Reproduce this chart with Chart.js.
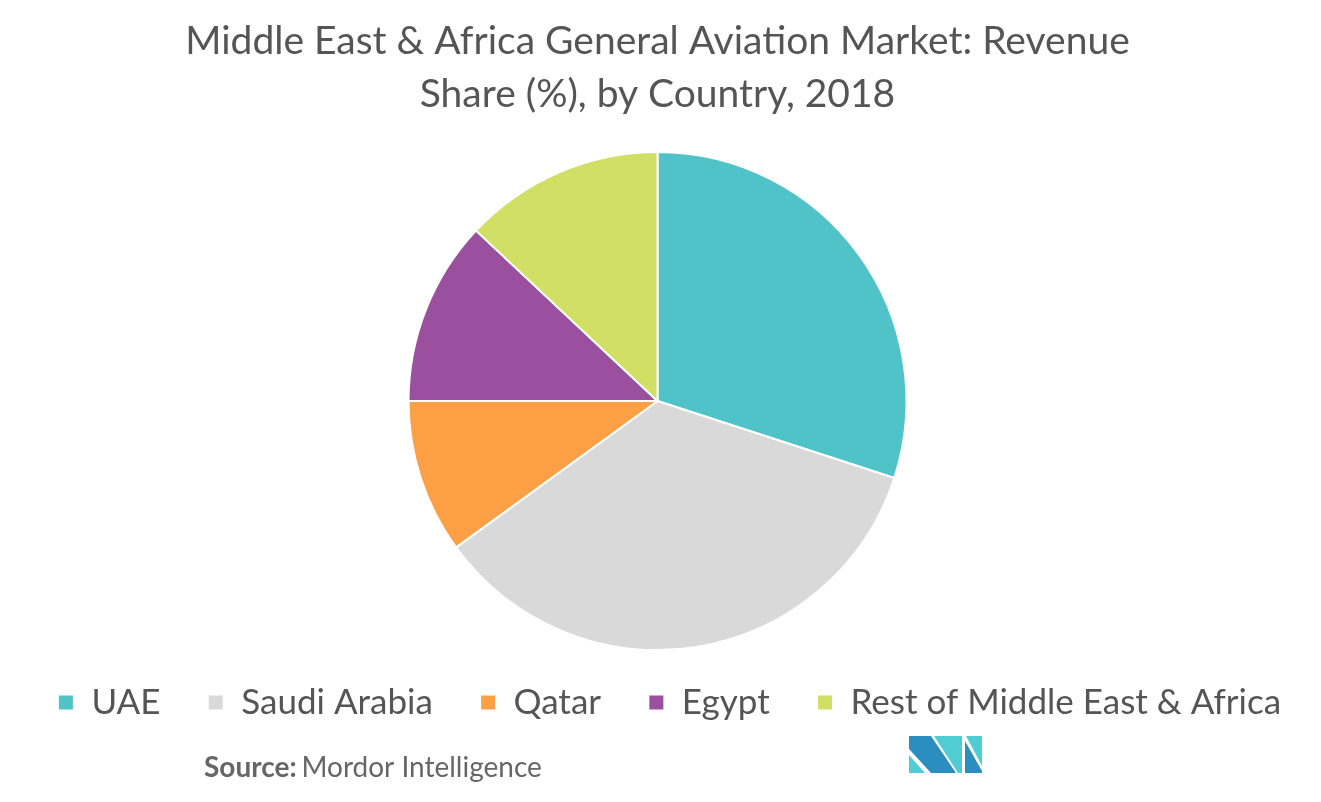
<!DOCTYPE html>
<html>
<head>
<meta charset="utf-8">
<script src="https://cdn.jsdelivr.net/npm/chart.js@4.4.0/dist/chart.umd.min.js"></script>
<style>
  html, body { margin: 0; padding: 0; background: #fff; }
  #wrap { width: 1321px; height: 802px; position: relative; }
</style>
</head>
<body>
<div id="wrap"><canvas id="pieChart"></canvas></div>
<script>
const countries = ['UAE', 'Saudi Arabia', 'Qatar', 'Egypt', 'Rest of Middle East & Africa'];
const shares = [30, 35, 10, 12, 13];
const sliceColors = ['#4fc3c8', '#d9d9d9', '#fd9f45', '#9b4f9f', '#d1df65'];
const titleLines = ['Middle East & Africa General Aviation Market: Revenue', 'Share (%), by Country, 2018'];

// nudge the legend row a bit to the right
const legendShift = {
    id: 'legendShift',
    afterLayout(chart) {
        if (chart.legend) {
            chart.legend.left += 12;
            chart.legend.right += 12;
        }
    }
};

// source line + logo under the legend
const footer = {
    id: 'footer',
    afterDraw(chart) {
        const ctx = chart.ctx;
        ctx.save();
        ctx.textBaseline = 'alphabetic';
        ctx.fillStyle = '#666666';
        ctx.font = 'bold 28px Lato';
        ctx.fillText('Source:', 204, 777);
        const w = ctx.measureText('Source: ').width;
        ctx.font = '28px Lato';
        ctx.fillText('Mordor Intelligence', 204 + w - 2, 777);

        const dark = '#2a8fc0', teal = '#4fcdd3';
        const poly = (pts, c) => {
            ctx.beginPath();
            ctx.moveTo(pts[0][0], pts[0][1]);
            pts.slice(1).forEach(p => ctx.lineTo(p[0], p[1]));
            ctx.closePath();
            ctx.fillStyle = c;
            ctx.fill();
        };
        poly([[909, 736], [931, 736], [956, 773], [931, 773], [909, 749]], dark);
        poly([[909, 755], [909, 773], [925, 773]], teal);
        poly([[934, 736], [962, 736], [962, 773], [958, 773]], teal);
        poly([[966, 736], [982, 736], [982, 766]], teal);
        poly([[965, 741], [982, 771], [982, 773], [965, 773]], dark);
        ctx.restore();
    }
};

const ctx = document.getElementById('pieChart').getContext('2d');
const pieChart = new Chart(ctx, {
    type: 'pie',
    data: {
        labels: countries,
        datasets: [{
            data: shares,
            backgroundColor: sliceColors,
            borderColor: '#ffffff',
            borderWidth: 2
        }]
    },
    options: {
        responsive: true,
        maintainAspectRatio: false,
        animation: false,
        layout: { padding: { top: 0, bottom: 72, right: 6 } },
        plugins: {
            title: {
                display: true,
                text: titleLines,
                color: '#555555',
                font: { family: 'Lato', size: 39, weight: 'normal', lineHeight: 1.36 },
                padding: { top: 15, bottom: 30 }
            },
            legend: {
                position: 'bottom',
                labels: {
                    color: '#555555',
                    font: { family: 'Lato', size: 35 },
                    boxWidth: 16,
                    boxHeight: 16,
                    padding: 34,
                    // extra space after each label except the last one
                    generateLabels(chart) {
                        const items = Chart.overrides.pie.plugins.legend.labels.generateLabels(chart);
                        items.forEach((it, i) => {
                            if (i < items.length - 1) it.text = it.text + ' \u2009';
                        });
                        return items;
                    }
                }
            },
            tooltip: { enabled: false }
        }
    },
    plugins: [legendShift, footer]
});
</script>
</body>
</html>
